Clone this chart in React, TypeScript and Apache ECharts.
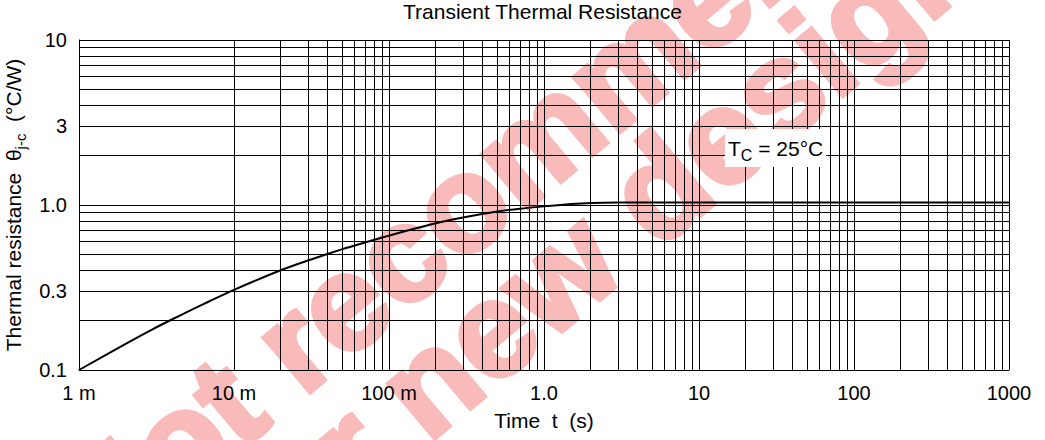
import React, { useEffect, useRef } from "react";
import * as echarts from "echarts";

// ---- data ----
const timeS = [0.001, 0.002, 0.003, 0.004, 0.005, 0.007, 0.01, 0.02, 0.03, 0.05, 0.07, 0.1, 0.2, 0.3, 0.5, 0.7, 1, 1.5, 2, 3, 5, 10, 100, 1000];
const thetaJC = [0.1, 0.144, 0.177, 0.203, 0.225, 0.262, 0.306, 0.402, 0.461, 0.54, 0.593, 0.652, 0.775, 0.84, 0.912, 0.95, 0.981, 1.013, 1.028, 1.036, 1.037, 1.037, 1.037, 1.037];

const xTickValues = [0.001, 0.01, 0.1, 1, 10, 100, 1000];
const xTickLabels = ["1 m", "10 m", "100 m", "1.0", "10", "100", "1000"];
const yTickValues = [0.1, 0.3, 1, 3, 10];
const yTickLabels = ["0.1", "0.3", "1.0", "3", "10"];

const xDecades = [-3, -2, -1, 0, 1, 2];
const yDecades = [-1, 0];
const minorSteps = [2, 3, 4, 5, 6, 7, 8, 9];

const titleText = "Transient Thermal Resistance";
const xName = "Time  t  (s)";
const conditionText = "{t|T}{s|C}{t| = 25°C}";
const watermark1 = "Not recommended";
const watermark2 = "for new design";

const FONT = "'Liberation Sans', Arial, Helvetica, sans-serif";

function labelFor(values: number[], labels: string[], v: number): string {
  for (let i = 0; i < values.length; i++) {
    if (Math.abs(Math.log10(v) - Math.log10(values[i])) < 1e-6) return labels[i];
  }
  return "";
}

export default function App() {
  const ref = useRef<HTMLDivElement>(null);

  useEffect(() => {
    if (!ref.current) return;
    const chart = echarts.init(ref.current, undefined, { renderer: "svg" });

    const gridLines: any[] = [];
    xDecades.forEach((d) => {
      minorSteps.forEach((k) => {
        gridLines.push({ xAxis: +(k * Math.pow(10, d)).toPrecision(6) });
      });
    });
    yDecades.forEach((d) => {
      minorSteps.forEach((k) => {
        const v = +(k * Math.pow(10, d)).toPrecision(6);
        const lab = labelFor(yTickValues, yTickLabels, v);
        const item: any = { yAxis: v };
        if (lab && Math.abs(Math.log10(v) - Math.round(Math.log10(v))) > 1e-6) {
          item.label = {
            show: true,
            position: "start",
            formatter: lab,
            distance: 12,
            color: "#000",
            fontSize: 20,
            fontFamily: FONT,
          };
        }
        gridLines.push(item);
      });
    });

    const data = timeS.map((t, i) => [t, thetaJC[i]]);
    const wmStyle = {
      fontSize: 135,
      fontWeight: "bold",
      fontFamily: FONT,
      fill: "#f9baba",
      stroke: "#f9baba",
      lineWidth: 5,
      align: "center",
      verticalAlign: "middle",
      textAlign: "center",
      textVerticalAlign: "middle",
    };

    chart.setOption({
      animation: false,
      backgroundColor: "#fff",
      title: {
        text: titleText,
        left: 403,
        top: 1,
        padding: 0,
        textStyle: { fontSize: 21, fontWeight: "normal", color: "#000", fontFamily: FONT },
      },
      grid: { left: 79, right: 36, top: 40, bottom: 70, containLabel: false, outerBoundsMode: "none" },
      xAxis: {
        type: "log",
        logBase: 10,
        min: 0.001,
        max: 1000,
        name: xName,
        nameLocation: "middle",
        nameGap: 40,
        nameTextStyle: { fontSize: 21, color: "#000", fontFamily: FONT },
        axisLine: { show: true, lineStyle: { color: "#000", width: 1 } },
        axisTick: { show: false },
        axisLabel: {
          color: "#000",
          fontSize: 20,
          fontFamily: FONT,
          margin: 13,
          formatter: (v: number) => labelFor(xTickValues, xTickLabels, v),
        },
        splitLine: { show: true, lineStyle: { color: "#000", width: 1 } },
        minorTick: { show: false },
      },
      yAxis: {
        type: "log",
        logBase: 10,
        min: 0.1,
        max: 10,
        name: "Thermal resistance  θ{sub|j-c}  (°C/W)",
        nameLocation: "middle",
        nameGap: 47,
        nameRotate: 90,
        nameTextStyle: {
          fontSize: 21,
          color: "#000",
          fontFamily: FONT,
          lineHeight: 30,
          rich: {
            sub: { fontSize: 15, color: "#000", fontFamily: FONT, verticalAlign: "bottom", lineHeight: 30 },
          },
        },
        axisLine: { show: true, lineStyle: { color: "#000", width: 1 } },
        axisTick: { show: false },
        axisLabel: {
          color: "#000",
          fontSize: 20,
          fontFamily: FONT,
          margin: 12,
          formatter: (v: number) => labelFor(yTickValues, yTickLabels, v),
        },
        splitLine: { show: true, lineStyle: { color: "#000", width: 1 } },
      },
      graphic: [
        {
          type: "text",
          z: -10,
          x: 526,
          y: 150,
          rotation: (40 * Math.PI) / 180,
          silent: true,
          style: { ...wmStyle, text: watermark1 },
        },
        {
          type: "text",
          z: -10,
          x: 596,
          y: 242,
          rotation: (40 * Math.PI) / 180,
          silent: true,
          style: { ...wmStyle, text: watermark2 },
        },
        {
          type: "text",
          z: 100,
          x: 725,
          y: 148,
          silent: true,
          style: {
            text: conditionText,
            backgroundColor: "#fff",
            padding: [4, 3, 4, 3],
            align: "left",
            verticalAlign: "middle",
            textVerticalAlign: "middle",
            rich: {
              t: { fontSize: 21, fill: "#000", fontFamily: FONT, lineHeight: 30 },
              s: { fontSize: 16, fill: "#000", fontFamily: FONT, lineHeight: 30, verticalAlign: "bottom" },
            },
          },
        },
      ],
      series: [
        {
          type: "line",
          data,
          smooth: 0.25,
          symbol: "none",
          lineStyle: { color: "#000", width: 2 },
          z: 3,
          markLine: {
            silent: true,
            symbol: ["none", "none"],
            animation: false,
            label: { show: false },
            lineStyle: { color: "#000", width: 1, type: "solid" },
            emphasis: { disabled: true },
            data: gridLines,
          },
        },
      ],
    });

    return () => chart.dispose();
  }, []);

  return (
    <div
      ref={ref}
      style={{ position: "fixed", left: 0, top: 0, width: 1045, height: 440 }}
    />
  );
}
